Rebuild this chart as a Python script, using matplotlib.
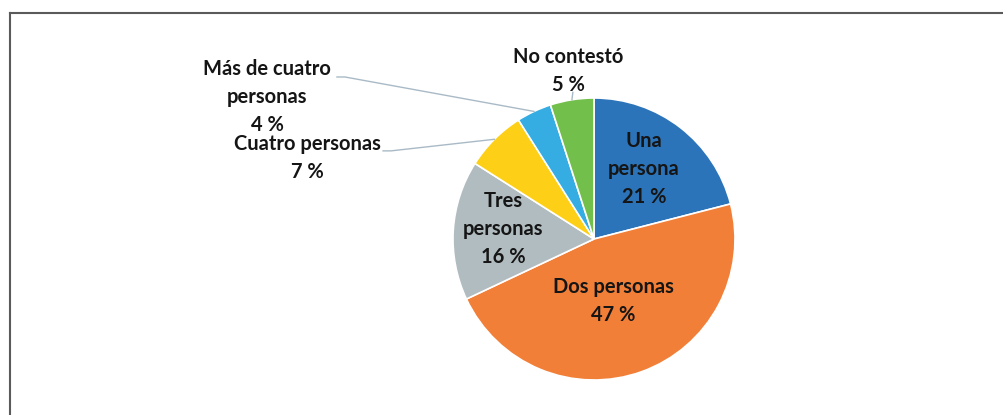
import numpy as np
import matplotlib.pyplot as plt

categories = ["Una\npersona", "Dos personas", "Tres\npersonas", "Cuatro personas",
              "Más de cuatro\npersonas", "No contestó"]
values = [21, 47, 16, 7, 4, 5]
colors = ['#2C74B9', '#F27F38', '#B1BCC0', '#FDD017', '#35ACE2', '#72BF4C']

plt.rcParams['font.family'] = ['Lato', 'DejaVu Sans']

fig = plt.figure(figsize=(10.04, 4.15), dpi=100)

# frame lines (top and left only)
fig.add_artist(plt.Line2D([9.5 / 1004, 1], [1 - 13 / 415, 1 - 13 / 415], color='#5a5a5a', lw=1.5))
fig.add_artist(plt.Line2D([9.5 / 1004, 9.5 / 1004], [0, 1 - 13 / 415], color='#5a5a5a', lw=1.5))

r_px = 141
ax = fig.add_axes([(594 - r_px) / 1004, (415 - 239 - r_px) / 415, 2 * r_px / 1004, 2 * r_px / 415])
wedges, _ = ax.pie(values, colors=colors, startangle=90, counterclock=False,
                   wedgeprops=dict(edgecolor='white', linewidth=1.2))
ax.set_xlim(-1, 1)
ax.set_ylim(-1, 1)
ax.set_aspect('equal')
ax.axis('off')

labels = ["%s\n%d %%" % (c, v) for c, v in zip(categories, values)]
label_pos = [(0.355, 0.496), (0.135, -0.44), (-0.645, 0.071),
             (-2.035, 0.578), (-2.319, 1.007), (-0.184, 1.195)]

for lab, (x, y) in zip(labels, label_pos):
    ax.text(x, y, lab, ha='center', va='center', fontsize=14.5, fontweight='bold',
            color='#151515', linespacing=1.5, clip_on=False)

line_col = '#A9BAC6'


def mid_point(w, r=1.0):
    a = np.deg2rad((w.theta1 + w.theta2) / 2)
    return r * np.cos(a), r * np.sin(a)


# leader line for Cuatro personas
x1, y1 = mid_point(wedges[3])
ax.plot([-1.496, -1.44, x1], [0.625, 0.625, y1], color=line_col, lw=1, clip_on=False)
# leader line for Más de cuatro personas
x1, y1 = mid_point(wedges[4])
ax.plot([-1.823, -1.766, x1], [1.149, 1.149, y1], color=line_col, lw=1, clip_on=False)
# short leader for No contestó
x1, y1 = mid_point(wedges[5])
ax.plot([-0.15, x1], [1.04, y1], color=line_col, lw=1, clip_on=False)

fig.savefig('out.png', dpi=100)
